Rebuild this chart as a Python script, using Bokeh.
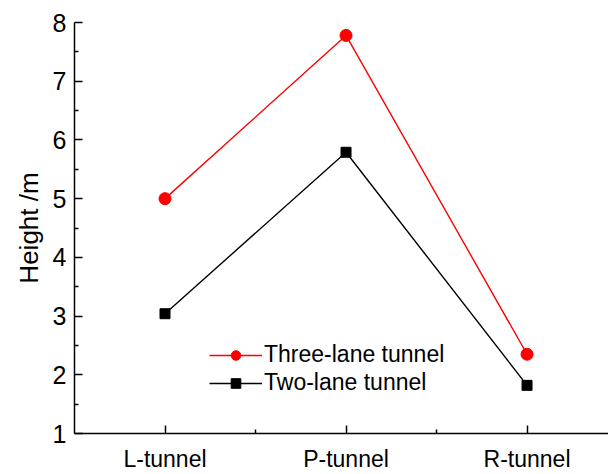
from bokeh.plotting import figure
from bokeh.models import FixedTicker, Range1d, Legend
from bokeh.embed import file_html
from bokeh.resources import INLINE

tunnels = ["L-tunnel", "P-tunnel", "R-tunnel"]
three_lane = [5.0, 7.78, 2.35]
two_lane = [3.04, 5.79, 1.82]
y_ticks = [1, 2, 3, 4, 5, 6, 7, 8]

xs = [i + 1 for i in range(len(tunnels))]
FONT = "Liberation Sans"

p = figure(width=608, height=474, output_backend="svg", toolbar_location=None,
           x_range=Range1d(0.5, 3.45), y_range=Range1d(1, 8),
           min_border_left=74, min_border_right=0, min_border_top=22,
           min_border_bottom=41)
p.outline_line_color = None
p.grid.visible = False
p.background_fill_color = "white"

r1 = p.line(xs, three_lane, line_color="#ff0000", line_width=1.4)
m1 = p.scatter(xs, three_lane, marker="circle", size=12, fill_color="#ff0000", line_color="#ff0000")
r2 = p.line(xs, two_lane, line_color="black", line_width=1.4)
m2 = p.scatter(xs, two_lane, marker="square", size=10, fill_color="black", line_color="black")

legend = Legend(items=[("Three-lane tunnel", [r1, m1]), ("Two-lane tunnel", [r2, m2])],
                location=(135, 37), background_fill_alpha=0, border_line_color=None,
                glyph_width=53, label_standoff=2, spacing=1, padding=0, margin=0,
                label_text_font=FONT, label_text_font_size="23px", label_text_color="black",
                label_height=24, glyph_height=24)
p.add_layout(legend, "center")

# x axis: category ticks at the points, minor ticks between them
xa = p.xaxis[0]
xa.ticker = FixedTicker(ticks=xs, minor_ticks=[1.5, 2.5])
xa.major_label_overrides = {x: t for x, t in zip(xs, tunnels)}
# y axis
ya = p.yaxis[0]
ya.ticker = FixedTicker(ticks=y_ticks, minor_ticks=[v + 0.5 for v in y_ticks[:-1]])
ya.axis_label = "Height /m"

for ax in (xa, ya):
    ax.axis_line_color = "black"
    ax.axis_line_width = 1.5
    ax.major_tick_line_color = "black"
    ax.major_tick_line_width = 1.5
    ax.minor_tick_line_color = "black"
    ax.minor_tick_line_width = 1.5
    ax.major_tick_in = 8
    ax.major_tick_out = 0
    ax.minor_tick_in = 4
    ax.minor_tick_out = 0
    ax.major_label_text_font = FONT
    ax.major_label_text_color = "black"
    ax.axis_label_text_font = FONT
    ax.axis_label_text_font_style = "normal"
    ax.axis_label_text_color = "black"

xa.major_label_text_font_size = "23px"
xa.major_label_standoff = 12
ya.major_label_text_font_size = "25px"
ya.major_label_standoff = 8
ya.axis_label_text_font_size = "26px"
ya.axis_label_standoff = 6

open("out.html", "w").write(file_html(p, INLINE))
